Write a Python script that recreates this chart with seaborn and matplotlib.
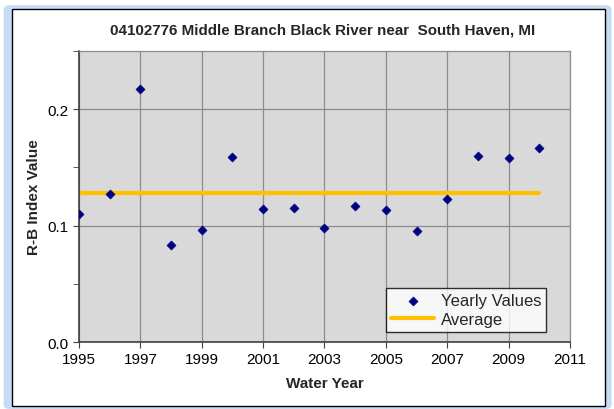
import numpy as np
import pandas as pd
import matplotlib.pyplot as plt
import seaborn as sns
from matplotlib.patches import Rectangle, FancyBboxPatch

# Data
years = [1995, 1996, 1997, 1998, 1999, 2000, 2001, 2002,
         2003, 2004, 2005, 2006, 2007, 2008, 2009, 2010]
rb_index = [0.110, 0.127, 0.217, 0.083, 0.096, 0.159, 0.114, 0.115,
            0.098, 0.117, 0.113, 0.095, 0.123, 0.160, 0.158, 0.167]
average_value = 0.128
x_ticks = [1995, 1997, 1999, 2001, 2003, 2005, 2007, 2009, 2011]
y_ticks = [0.0, 0.1, 0.2]

df = pd.DataFrame({'year': years, 'rb': rb_index})
avg_df = pd.DataFrame({'year': [years[0], years[-1]],
                       'rb': [average_value, average_value]})

sns.set_style('white')
plt.rcParams['font.family'] = ['Liberation Sans', 'DejaVu Sans']

fig = plt.figure(figsize=(6.14, 4.10), dpi=100)
fig.patch.set_facecolor('white')

# light blue glow and black frame around the chart (kept behind the axes)
fig.patches.append(FancyBboxPatch((0.006, 0.0), 0.99, 0.985, boxstyle='round,pad=0,rounding_size=0.01',
                                  transform=fig.transFigure, facecolor='#c6dcf5',
                                  edgecolor='none', zorder=-2))
fig.patches.append(Rectangle((0.02, 0.008), 0.965, 0.968, transform=fig.transFigure,
                             facecolor='white', edgecolor='black', linewidth=1.0, zorder=-1))

ax = fig.add_axes([0.1287, 0.1634, 0.7996, 0.7097])
ax.set_zorder(2)
ax.set_facecolor('#d9d9d9')

sns.lineplot(x='year', y='rb', data=avg_df, ax=ax, color='#ffc000', linewidth=3,
             label='Average', zorder=2)
sns.scatterplot(x='year', y='rb', data=df, ax=ax, marker='D', s=22, color='#000080',
                edgecolor='#000080', label='Yearly Values', zorder=3)

ax.set_xlim(1995, 2011)
ax.set_ylim(0, 0.25)
ax.set_xticks(x_ticks)
ax.set_yticks(y_ticks)
ax.set_yticks([0.05, 0.15, 0.25], minor=True)
ax.set_yticklabels(['0.0', '0.1', '0.2'])
ax.grid(True, which='major', color='#8c8c8c', linewidth=0.9)
ax.set_axisbelow(True)
for side in ['top', 'right']:
    ax.spines[side].set_visible(True)
    ax.spines[side].set_color('#8c8c8c')
    ax.spines[side].set_linewidth(0.9)
for side in ['left', 'bottom']:
    ax.spines[side].set_color('#404040')
    ax.spines[side].set_linewidth(1.2)
ax.tick_params(axis='both', which='both', direction='out', length=4, color='#404040',
               labelsize=11, colors='#000000', bottom=True, left=True)
ax.tick_params(axis='y', which='minor', length=4)

ax.set_xlabel('Water Year', fontsize=11, fontweight='bold', labelpad=7)
ax.set_ylabel('R-B Index Value', fontsize=11, fontweight='bold', labelpad=5)
fig.text(0.526, 0.925, '04102776 Middle Branch Black River near  South Haven, MI',
         ha='center', va='center', fontsize=10.9, fontweight='bold')

handles, labels = ax.get_legend_handles_labels()
order = [labels.index('Yearly Values'), labels.index('Average')]
leg = ax.legend([handles[i] for i in order], [labels[i] for i in order],
                loc='lower left', bbox_to_anchor=(0.625, 0.034, 0.326, 0.16),
                mode='expand', frameon=True, fancybox=False, fontsize=12,
                borderpad=0.3, labelspacing=0.25, handlelength=2.6, handletextpad=0.4,
                borderaxespad=0)
leg.get_frame().set_edgecolor('black')
leg.get_frame().set_linewidth(1.0)
leg.get_frame().set_facecolor('white')

fig.savefig('out.png', dpi=100)
